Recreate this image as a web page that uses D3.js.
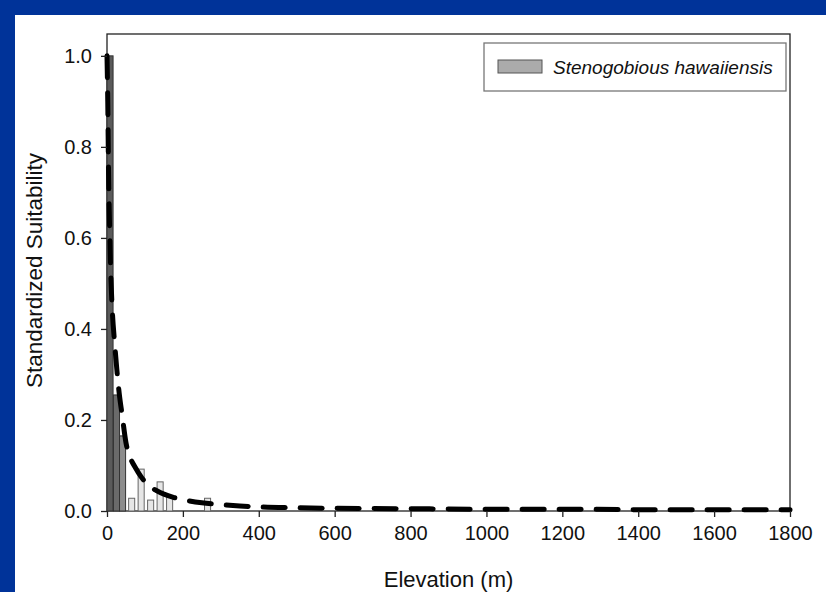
<!DOCTYPE html>
<html>
<head>
<meta charset="utf-8">
<script src="https://cdn.jsdelivr.net/npm/d3@7"></script>
<style>
  html, body { margin: 0; padding: 0; background: #003399; }
  #chart { position: absolute; left: 15px; top: 15px; width: 811px; height: 577px; background: #fff; }
  text { font-family: "Liberation Sans", Arial, sans-serif; fill: #111; }
</style>
</head>
<body>
<div id="chart"></div>
<script>
// histogram bars: bin centre elevation (m) and standardized suitability
const binCenters = [8, 25, 41, 65, 90, 115, 140, 165, 265];
const binValues  = [1.0, 0.255, 0.165, 0.028, 0.092, 0.024, 0.064, 0.03, 0.028];
const binWidth = 16; // metres

// fitted curve
const curveElev  = [0, 2, 4, 7, 10, 14, 20, 26, 32, 40, 50, 60, 75, 90, 110, 130, 150, 175, 200, 250, 300, 350, 400, 500, 600, 800, 1000, 1200, 1400, 1600, 1800];
const curveValue = [1.0, 0.9, 0.75, 0.62, 0.52, 0.44, 0.37, 0.31, 0.26, 0.21, 0.15, 0.12, 0.095, 0.075, 0.055, 0.045, 0.037, 0.03, 0.025, 0.018, 0.014, 0.011, 0.009, 0.007, 0.006, 0.005, 0.004, 0.004, 0.003, 0.003, 0.003];

const xTicks = [0, 200, 400, 600, 800, 1000, 1200, 1400, 1600, 1800];
const yTicks = [0, 0.2, 0.4, 0.6, 0.8, 1.0];
const seriesName = "Stenogobious hawaiiensis";

class Chart {
  constructor() {
    // plot area in page pixels, shifted by the white panel offset
    this.OFF = 15;
    this.MARGIN = {left: 107, right: 790, top: 34, bottom: 511};
    this.draw();
  }

  draw() {
    const o = this.OFF;
    const svg = d3.select('#chart')
      .append('svg')
      .attr('width', 811)
      .attr('height', 577);

    const g = svg.append('g').attr('transform', `translate(${-o},${-o})`);

    const xScale = d3.scaleLinear()
      .domain([0, 1800])
      .range([this.MARGIN.left, this.MARGIN.right]);
    const yScale = d3.scaleLinear()
      .domain([0, 1.048])
      .range([this.MARGIN.bottom, this.MARGIN.top]);

    // frame
    g.append('rect')
      .attr('x', this.MARGIN.left)
      .attr('y', this.MARGIN.top)
      .attr('width', this.MARGIN.right - this.MARGIN.left)
      .attr('height', this.MARGIN.bottom - this.MARGIN.top)
      .attr('fill', 'none')
      .attr('stroke', '#222')
      .attr('stroke-width', 1.3);

    // bars
    const fills = ['#5a5a5a', '#6a6a6a', '#8c8c8c'];
    g.append('g').selectAll('rect')
      .data(binCenters.map((c, i) => ({c: c, v: binValues[i], i: i})))
      .join('rect')
      .attr('x', d => xScale(d.c - binWidth / 2))
      .attr('width', xScale(binWidth) - xScale(0))
      .attr('y', d => yScale(d.v))
      .attr('height', d => yScale(0) - yScale(d.v))
      .attr('fill', d => d.i < 3 ? fills[d.i] : '#e6e6e6')
      .attr('stroke', d => d.i < 3 ? '#333' : '#666')
      .attr('stroke-width', 1);

    // dashed curve
    const line = d3.line()
      .x(d => xScale(d[0]))
      .y(d => yScale(d[1]))
      .curve(d3.curveMonotoneX);
    g.append('path')
      .datum(curveElev.map((e, i) => [e, curveValue[i]]))
      .attr('d', line)
      .attr('fill', 'none')
      .attr('stroke', '#000')
      .attr('stroke-width', 5)
      .attr('stroke-linecap', 'round')
      .attr('stroke-dasharray', '22,15');

    // axes
    const xAxisG = g.append('g')
      .attr('transform', `translate(0,${this.MARGIN.bottom})`)
      .call(d3.axisBottom(xScale).tickValues(xTicks).tickSize(6).tickPadding(9).tickFormat(d3.format('d')));
    const yAxisG = g.append('g')
      .attr('transform', `translate(${this.MARGIN.left},0)`)
      .call(d3.axisLeft(yScale).tickValues(yTicks).tickSize(6).tickPadding(9).tickFormat(d3.format('.1f')));
    [xAxisG, yAxisG].forEach(a => {
      a.select('.domain').remove();
      a.selectAll('line').attr('stroke', '#222').attr('stroke-width', 1.3);
      a.selectAll('text').style('font-size', '20px').style('font-family', '"Liberation Sans", Arial, sans-serif').attr('fill', '#111');
    });

    // axis titles
    g.append('text')
      .attr('x', (this.MARGIN.left + this.MARGIN.right) / 2)
      .attr('y', 587)
      .attr('text-anchor', 'middle')
      .style('font-size', '22px')
      .text('Elevation (m)');
    g.append('text')
      .attr('transform', `translate(42,${(this.MARGIN.top + this.MARGIN.bottom) / 2 - 2}) rotate(-90)`)
      .attr('text-anchor', 'middle')
      .style('font-size', '22.5px')
      .text('Standardized Suitability');

    // legend
    const lg = g.append('g');
    lg.append('rect')
      .attr('x', 484).attr('y', 43)
      .attr('width', 302).attr('height', 48)
      .attr('fill', '#fff')
      .attr('stroke', '#777')
      .attr('stroke-width', 1.3);
    lg.append('rect')
      .attr('x', 498).attr('y', 60)
      .attr('width', 44).attr('height', 13)
      .attr('fill', '#ababab')
      .attr('stroke', '#555');
    lg.append('text')
      .attr('x', 553).attr('y', 74)
      .style('font-size', '19px')
      .style('font-style', 'italic')
      .text(seriesName);
  }
}

new Chart();
</script>
</body>
</html>
